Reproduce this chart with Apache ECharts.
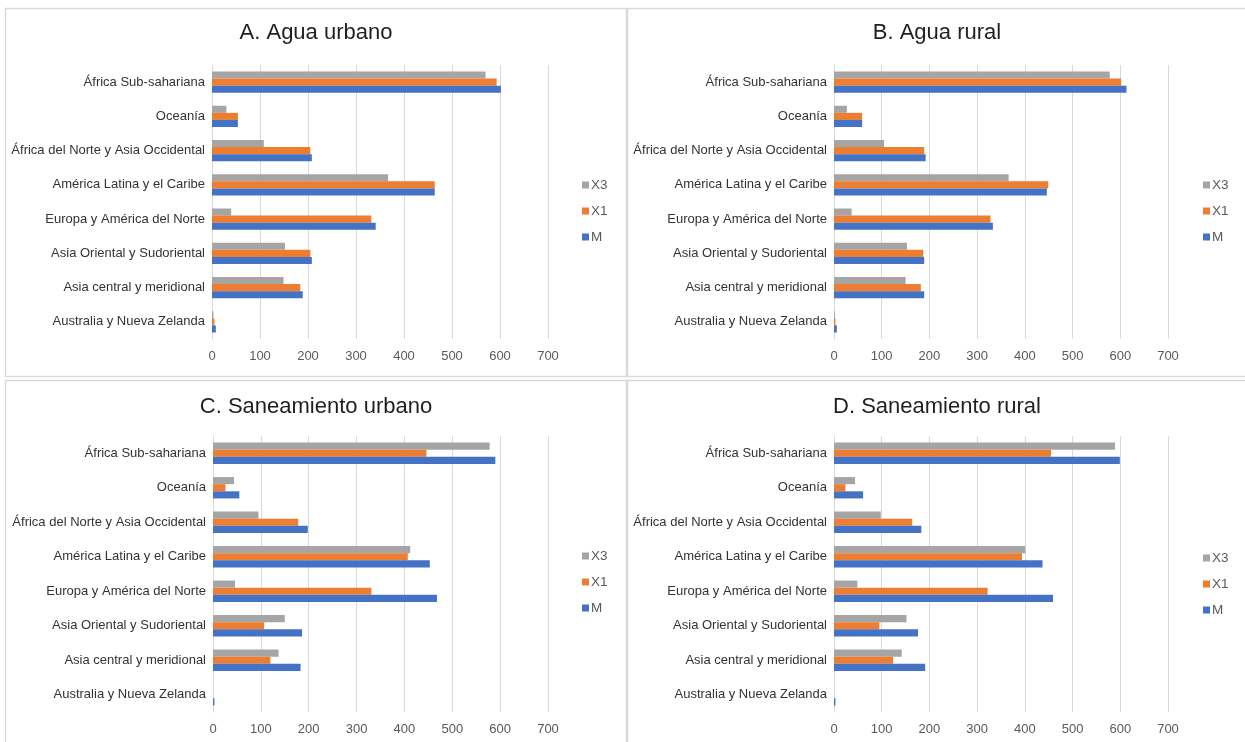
<!DOCTYPE html>
<html>
<head>
<meta charset="utf-8">
<script src="https://cdn.jsdelivr.net/npm/echarts@6/dist/echarts.min.js"></script>
<style>
  html, body { margin: 0; padding: 0; background: #ffffff; }
  #chart { width: 1245px; height: 742px; }
</style>
</head>
<body>
<div id="chart"></div>
<script>
// Regions, listed top to bottom
const regions = [
  'África Sub-sahariana',
  'Oceanía',
  'África del Norte y Asia Occidental',
  'América Latina y el Caribe',
  'Europa y América del Norte',
  'Asia Oriental y Sudoriental',
  'Asia central y meridional',
  'Australia y Nueva Zelanda'
];

const seriesNames = ['X3', 'X1', 'M'];
const panelTitles = ['A. Agua urbano', 'B. Agua rural', 'C. Saneamiento urbano', 'D. Saneamiento rural'];
const xTicks = [0, 100, 200, 300, 400, 500, 600, 700];

// A. Agua urbano
const aguaUrbanoX3 = [570, 30, 108, 367, 40, 152, 149, 3];
const aguaUrbanoX1 = [593, 54, 205, 464, 332, 205, 184, 5];
const aguaUrbanoM  = [602, 54, 208, 464, 341, 208, 189, 8];

// B. Agua rural
const aguaRuralX3 = [578, 27, 105, 366, 37, 153, 150, 2];
const aguaRuralX1 = [602, 59, 189, 449, 328, 187, 182, 3];
const aguaRuralM  = [613, 59, 192, 446, 333, 189, 189, 6];

// C. Saneamiento urbano
const saneUrbanoX3 = [578, 44, 95, 412, 46, 150, 137, 0];
const saneUrbanoX1 = [446, 26, 178, 407, 331, 107, 120, 0];
const saneUrbanoM  = [590, 55, 198, 453, 468, 186, 183, 3];

// D. Saneamiento rural
const saneRuralX3 = [589, 44, 98, 401, 49, 152, 142, 0];
const saneRuralX1 = [455, 24, 164, 394, 322, 95, 124, 0];
const saneRuralM  = [599, 61, 183, 437, 459, 176, 191, 3];

const colors = { X3: '#A5A5A5', X1: '#ED7D31', M: '#4472C4' };
const FONT = '"Liberation Sans", Arial, sans-serif';

const panelData = [
  [aguaUrbanoX3, aguaUrbanoX1, aguaUrbanoM],
  [aguaRuralX3, aguaRuralX1, aguaRuralM],
  [saneUrbanoX3, saneUrbanoX1, saneUrbanoM],
  [saneRuralX3, saneRuralX1, saneRuralM]
];

// Layout of the four panels (pixels)
const panels = [
  { grid: { left: 212, top: 65, width: 336, height: 274 }, titleX: 316, titleY: 22, legendX: 582, legendY: 178, box: [5.5, 8.5, 621, 368] },
  { grid: { left: 834, top: 65, width: 334, height: 274 }, titleX: 937, titleY: 22, legendX: 1203, legendY: 178, box: [627.5, 8.5, 622, 368] },
  { grid: { left: 213, top: 436, width: 335, height: 276 }, titleX: 316, titleY: 396, legendX: 582, legendY: 549, box: [5.5, 380.5, 621, 370] },
  { grid: { left: 834, top: 436, width: 334, height: 276 }, titleX: 937, titleY: 396, legendX: 1203, legendY: 551, box: [627.5, 380.5, 622, 370] }
];

const option = {
  backgroundColor: '#ffffff',
  animation: false,
  title: [],
  legend: [],
  grid: [],
  xAxis: [],
  yAxis: [],
  series: [],
  graphic: []
};

panels.forEach((p, i) => {
  // panel frame
  option.graphic.push({
    type: 'rect',
    silent: true,
    z: -1,
    shape: { x: p.box[0], y: p.box[1], width: p.box[2], height: p.box[3] },
    style: { fill: 'none', stroke: '#d9d9d9', lineWidth: 1.5 }
  });

  option.title.push({
    text: panelTitles[i],
    left: p.titleX,
    top: p.titleY,
    textAlign: 'center',
    padding: 0,
    textStyle: { fontFamily: FONT, fontSize: 22, fontWeight: 'normal', color: '#1f1f1f' }
  });

  option.legend.push({
    data: seriesNames,
    orient: 'vertical',
    left: p.legendX,
    top: p.legendY,
    padding: 0,
    itemWidth: 7,
    itemHeight: 7,
    itemGap: 12,
    icon: 'rect',
    selectedMode: false,
    textStyle: { fontFamily: FONT, fontSize: 13.5, color: '#595959', padding: [0, 0, 0, -3] }
  });

  option.grid.push(Object.assign({ containLabel: false }, p.grid));

  option.xAxis.push({
    type: 'value',
    gridIndex: i,
    min: xTicks[0],
    max: xTicks[xTicks.length - 1],
    interval: xTicks[1] - xTicks[0],
    axisLine: { show: false },
    axisTick: { show: false },
    axisLabel: { fontFamily: FONT, fontSize: 13, color: '#595959', margin: 11 },
    splitLine: { show: true, lineStyle: { color: '#d9d9d9', width: 1 } }
  });

  option.yAxis.push({
    type: 'category',
    gridIndex: i,
    inverse: true,
    data: regions,
    axisLine: { show: true, lineStyle: { color: '#d9d9d9', width: 1 } },
    axisTick: { show: false },
    axisLabel: { fontFamily: FONT, fontSize: 13, color: '#333333', margin: 7 }
  });

  seriesNames.forEach((name, k) => {
    option.series.push({
      name: name,
      type: 'bar',
      xAxisIndex: i,
      yAxisIndex: i,
      data: panelData[i][k],
      itemStyle: { color: colors[name] },
      barGap: '0%',
      barCategoryGap: '38%'
    });
  });
});

const chart = echarts.init(document.getElementById('chart'), null, { renderer: 'canvas' });
chart.setOption(option);
</script>
</body>
</html>
